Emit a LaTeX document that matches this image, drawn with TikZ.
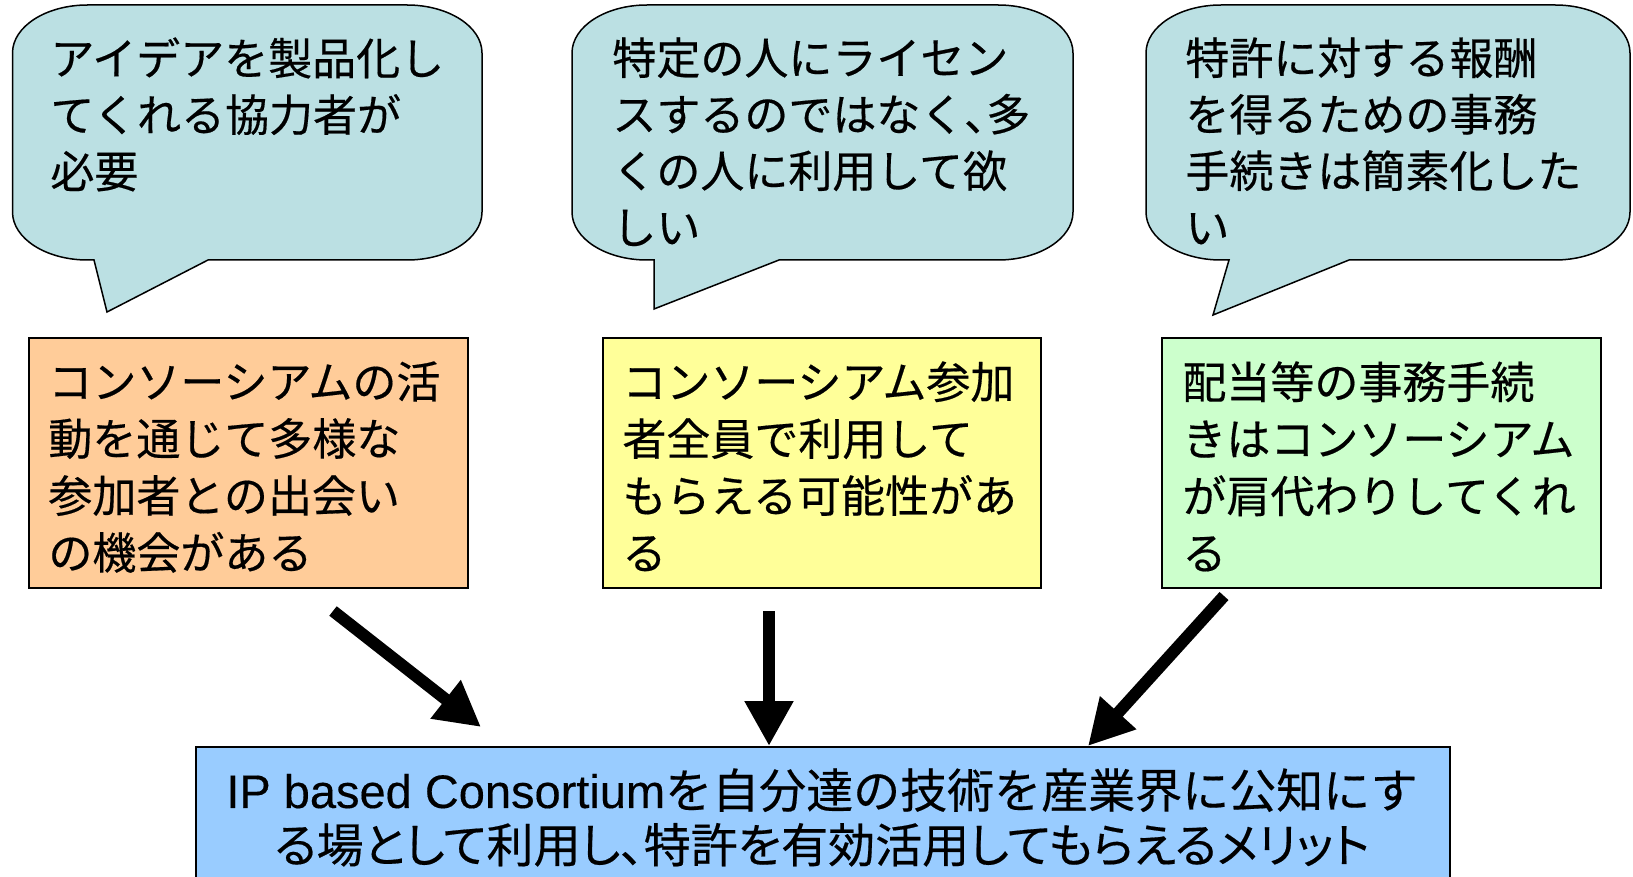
\documentclass[tikz,border=0pt]{standalone}
\usepackage{fontspec}
\setmainfont{Noto Sans CJK JP}[FakeBold=0.4]
\newfontfamily\latinfont{Liberation Sans}[FakeBold=0.3]
\newfontfamily\jpprop{Noto Sans CJK JP}[RawFeature=+palt,FakeBold=0.4]
\usetikzlibrary{arrows.meta}
\definecolor{bubblefill}{RGB}{187,224,227}
\definecolor{orangefill}{RGB}{255,204,153}
\definecolor{yellowfill}{RGB}{255,255,153}
\definecolor{greenfill}{RGB}{204,255,204}
\definecolor{bluefill}{RGB}{153,204,255}
% #1 x0, #2 y0, #3 x1, #4 y1, #5 tail-left x, #6 tip x, #7 tip y, #8 tail-right x
\newcommand\speechbubble[8]{%
\draw[bubble] ({#1+75},#2) -- ({#3-75},#2)
 .. controls ({#3-33.6},#2) and (#3,{#2+21.5}) .. (#3,{#2+48})
 -- (#3,{#4-48})
 .. controls (#3,{#4-21.5}) and ({#3-33.6},#4) .. ({#3-75},#4)
 -- (#8,#4) -- (#6,#7) -- (#5,#4) -- ({#1+75},#4)
 .. controls ({#1+33.6},#4) and (#1,{#4-21.5}) .. (#1,{#4-48})
 -- (#1,{#2+48})
 .. controls (#1,{#2+21.5}) and ({#1+33.6},#2) .. cycle;}
\begin{document}
\begin{tikzpicture}[x=0.5pt,y=-0.5pt,
  bubble/.style={draw=black, line width=0.75pt, fill=bubblefill, line join=miter},
  boxshape/.style={draw=black, line width=0.75pt, inner sep=0pt, anchor=north west},
  txt/.style={anchor=north west, inner sep=0pt, align=left, font=\fontsize{22pt}{28.25pt}\selectfont},
  boxtxt/.style={anchor=north west, inner sep=0pt, align=left, font=\fontsize{22pt}{28.5pt}\selectfont},
  bottomtxt/.style={anchor=north, inner sep=0pt, align=center, font=\fontsize{23.5pt}{27.3pt}\selectfont},
  bigarrow/.style={line width=6pt, -{Triangle[width=23pt,length=22.5pt]}}]
\useasboundingbox (0,0) rectangle (1633,877);
\clip (0,0) rectangle (1633,877);

% speech bubbles
\speechbubble{12.5}{5}{482}{260}{94}{107}{312}{208}
\speechbubble{572}{5}{1073}{260}{654}{654}{309}{779}
\speechbubble{1146}{5}{1630}{260}{1229}{1213}{315}{1349}

\node[txt] (q1) at (50,37) {アイデアを製品化し\\てくれる協力者が\\必要};
\node[txt] (q2) at (612,37) {特定の人にライセン\\スするのではなく{\jpprop 、}多\\くの人に利用して欲\\しい};
\node[txt] (q3) at (1185,37) {特許に対する報酬\\を得るための事務\\手続きは簡素化した\\い};

% boxes
\node[boxshape, fill=orangefill, minimum width=219.5pt, minimum height=125pt] (box1) at (28,337) {};
\node[boxshape, fill=yellowfill, minimum width=219pt, minimum height=125pt] (box2) at (602,337) {};
\node[boxshape, fill=greenfill, minimum width=219.5pt, minimum height=125pt] (box3) at (1161,337) {};

\node[boxtxt] (t1) at (48,361) {コンソーシアムの活\\動を通じて多様な\\参加者との出会い\\の機会がある};
\node[boxtxt] (t2) at (622,361) {コンソーシアム参加\\者全員で利用して\\もらえる可能性があ\\る};
\node[boxtxt] (t3) at (1182,361) {配当等の事務手続\\きはコンソーシアム\\が肩代わりしてくれ\\る};

% bottom box
\node[boxshape, fill=bluefill, minimum width=627pt, minimum height=80pt] (bottom) at (195,746) {};
\node[bottomtxt] (bt) at (822,768) {{\latinfont IP based Consortium}を自分達の技術を産業界に公知にす\\{\jpprop る場として利用し、特許を有効活用してもらえるメリット}};

% arrows
\coordinate (a1s) at (333,611);
\coordinate (a1e) at (481,727);
\coordinate (a2s) at (769,611);
\coordinate (a2e) at (769,746);
\coordinate (a3s) at (1224,596);
\coordinate (a3e) at (1088,746);
\draw[bigarrow] (a1s) -- (a1e);
\draw[bigarrow] (a2s) -- (a2e);
\draw[bigarrow] (a3s) -- (a3e);
\end{tikzpicture}
\end{document}
